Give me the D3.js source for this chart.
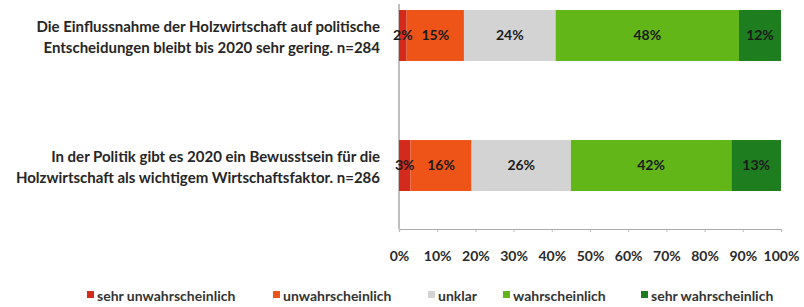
<!DOCTYPE html>
<html>
<head>
<meta charset="utf-8">
<script src="https://cdn.jsdelivr.net/npm/d3@7"></script>
<style>
  html, body { margin: 0; padding: 0; background: #fff; }
  svg { display: block; }
  text { font-family: Lato, "Open Sans", sans-serif; font-weight: 700; }
</style>
</head>
<body>
<svg id="chart" width="804" height="307"></svg>
<script>
// ---- data ----
const categories = [
  ["Die Einflussnahme der Holzwirtschaft auf politische", "Entscheidungen bleibt bis 2020 sehr gering. n=284"],
  ["In der Politik gibt es 2020 ein Bewusstsein für die", "Holzwirtschaft als wichtigem Wirtschaftsfaktor. n=286"]
];
const seriesNames = ["sehr unwahrscheinlich", "unwahrscheinlich", "unklar", "wahrscheinlich", "sehr wahrscheinlich"];
const sehrUnwahrscheinlich = [2, 3];
const unwahrscheinlich = [15, 16];
const unklar = [24, 26];
const wahrscheinlich = [48, 42];
const sehrWahrscheinlich = [12, 13];
const tickValues = [0, 10, 20, 30, 40, 50, 60, 70, 80, 90, 100];
const tickLabels = ["0%", "10%", "20%", "30%", "40%", "50%", "60%", "70%", "80%", "90%", "100%"];

// ---- styles / layout ----
const colors = ["#d42a1c", "#ee5418", "#d3d3d3", "#62b618", "#1e7d1e"];
const legendX = [87, 273, 428, 503, 641];

const seriesValues = [sehrUnwahrscheinlich, unwahrscheinlich, unklar, wahrscheinlich, sehrWahrscheinlich];
const rows = categories.map((c, i) => {
  const o = { key: i, label: c };
  seriesNames.forEach((s, j) => { o[s] = seriesValues[j][i]; });
  return o;
});
const stacked = d3.stack().keys(seriesNames)(rows);

const svg = d3.select("#chart");
const x = d3.scaleLinear().domain([0, 100]).range([399, 781]);
const y = d3.scaleBand().domain(rows.map(r => r.key)).range([10, 191]).paddingInner(0.608).paddingOuter(0);

// axes lines
const axisY = 229;
svg.append("line").attr("x1", x(0)).attr("x2", x(0)).attr("y1", 4).attr("y2", axisY)
  .attr("stroke", "#aaa").attr("stroke-width", 1.5);

const xAxis = d3.axisBottom(x).tickValues(tickValues).tickFormat((d, i) => tickLabels[i])
  .tickSize(3).tickPadding(19);
const gx = svg.append("g").attr("transform", `translate(0,${axisY})`).call(xAxis);
gx.select(".domain").attr("stroke", "#aaa").attr("stroke-width", 1.2);
gx.selectAll(".tick line").attr("stroke", "#bbb");
gx.selectAll(".tick text").attr("font-size", 14).attr("fill", "#2a2a2a")
  .style("font-family", "Lato, sans-serif").style("font-weight", 700);

// bars
const layers = svg.append("g").selectAll("g").data(stacked).join("g")
  .attr("fill", (d, i) => colors[i]);
layers.selectAll("rect").data(d => d).join("rect")
  .attr("x", d => x(d[0]))
  .attr("width", d => Math.max(0, Math.min(x(d[1]), x(100)) - x(d[0])))
  .attr("y", d => y(d.data.key))
  .attr("height", y.bandwidth());

// value labels
stacked.forEach((layer, i) => {
  svg.append("g").selectAll("text").data(layer).join("text")
    .attr("x", d => (x(d[0]) + Math.min(x(d[1]), x(100))) / 2)
    .attr("y", d => y(d.data.key) + y.bandwidth() / 2)
    .attr("dy", "0.35em")
    .attr("text-anchor", "middle")
    .attr("font-size", 14)
    .attr("fill", "#1a1a1a")
    .text(d => (d[1] - d[0]) + "%");
});

// category labels
rows.forEach(r => {
  const cy = y(r.key) + y.bandwidth() / 2;
  const t = svg.append("text").attr("text-anchor", "end").attr("font-size", 15).attr("fill", "#262626");
  r.label.forEach((line, k) => {
    t.append("tspan").attr("x", 380).attr("y", cy + (k === 0 ? -9 : 12)).attr("dy", "0.35em").text(line);
  });
});

// legend
const lg = svg.append("g");
seriesNames.forEach((s, i) => {
  lg.append("rect").attr("x", legendX[i]).attr("y", 291).attr("width", 7).attr("height", 7).attr("fill", colors[i]);
  lg.append("text").attr("x", legendX[i] + 10).attr("y", 296).attr("dy", "0.35em")
    .attr("font-size", 14).attr("fill", "#333").text(s);
});
</script>
</body>
</html>
